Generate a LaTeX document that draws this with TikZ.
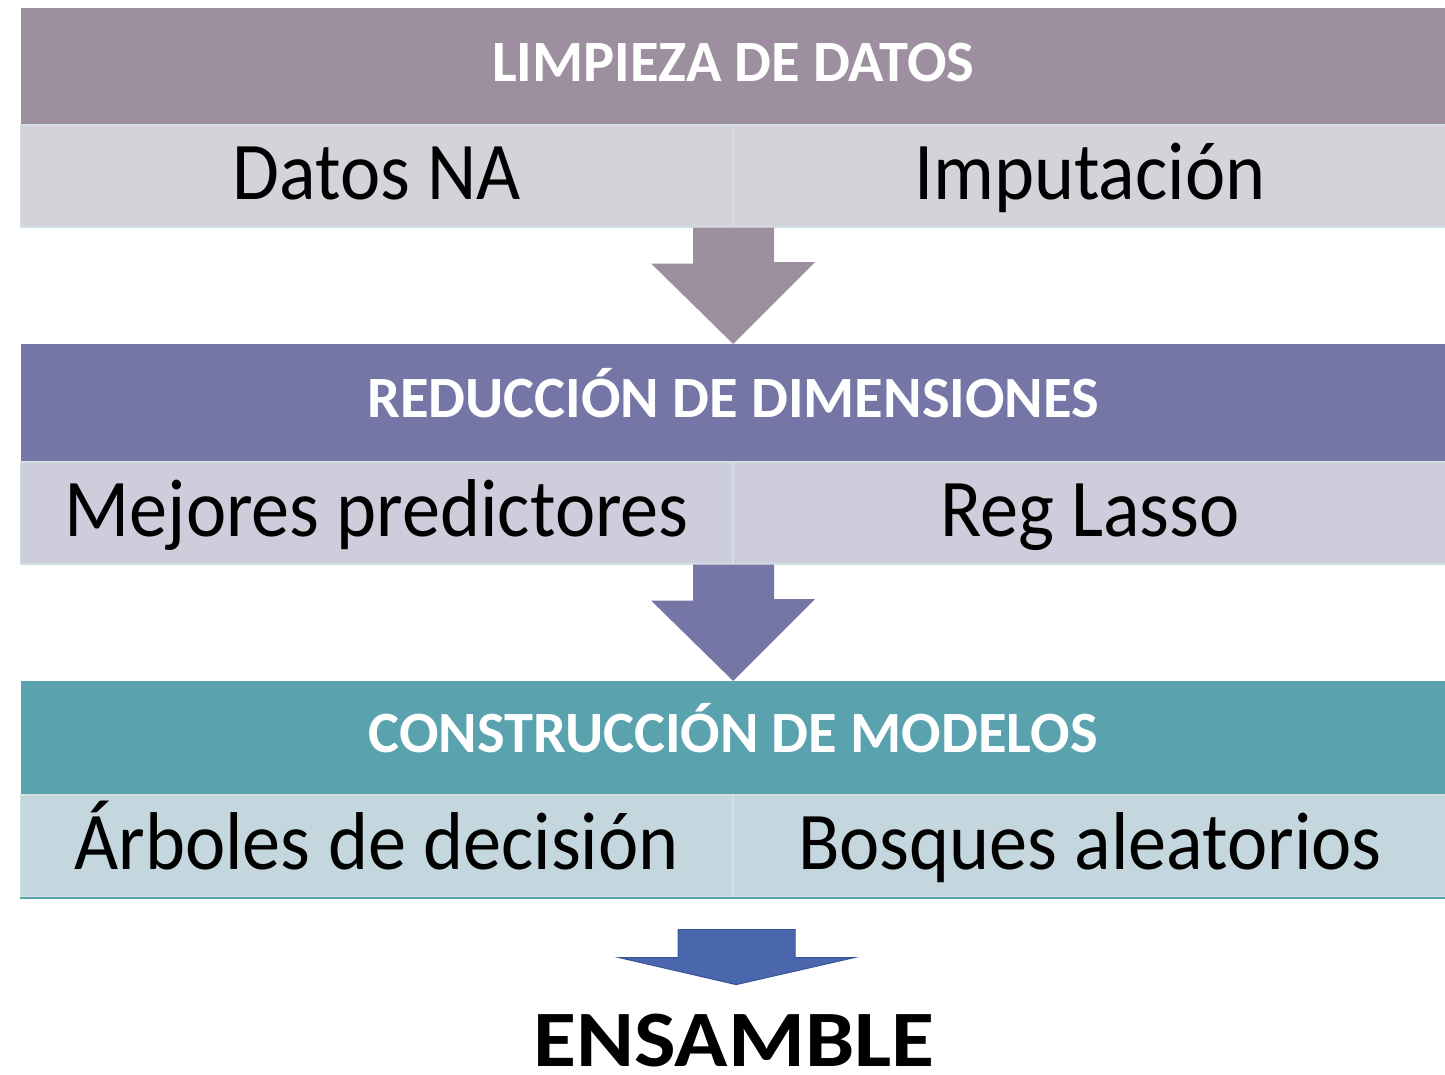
\documentclass[tikz,border=0pt]{standalone}
\usepackage{fontspec}
\setmainfont{Carlito}
\newfontfamily\cellfont{Carlito}[FakeStretch=0.93]
\newfontfamily\ensfont{Carlito}[FakeStretch=1.1]
\usetikzlibrary{positioning}

\definecolor{limpHead}{HTML}{9D8FA0}
\definecolor{limpCell}{HTML}{D6D2DA}
\definecolor{redHead}{HTML}{7676A6}
\definecolor{redCell}{HTML}{CDCDDB}
\definecolor{consHead}{HTML}{59A2AE}
\definecolor{consCell}{HTML}{C5D7DE}
\definecolor{cellLine}{HTML}{D2E0E3}
\definecolor{ensFill}{HTML}{4A66AC}
\definecolor{ensLine}{HTML}{3A5596}

\begin{document}
\begin{tikzpicture}[x=1pt, y=-1pt]
    \tikzstyle{head} = [rectangle, minimum width = 1424pt, inner sep = 0pt, text height = 40pt, text depth = 10pt, text = white, font = \bfseries\fontsize{58.5pt}{64pt}\selectfont]
    \tikzstyle{cell} = [rectangle, minimum width = 712pt, minimum height = 102pt, inner sep = 0pt, text height = 56pt, text depth = 10pt, draw = cellLine, line width = 1.2pt, font = \cellfont\fontsize{82pt}{90pt}\selectfont]
    \useasboundingbox (0,0) rectangle (1445,1074);

    % limpieza
    \node[head, fill = limpHead, minimum height = 116pt, anchor = north west](L) at (21,8){LIMPIEZA DE DATOS};
    \node[cell, fill = limpCell, below right = 0pt and -1pt of L.south west](L1){Datos NA};
    \node[cell, fill = limpCell, right = 0pt of L1](L2){Imputación};

    % reduccion
    \node[head, fill = redHead, minimum height = 117pt, anchor = north west](R) at (21,344){REDUCCIÓN DE DIMENSIONES};
    \node[cell, fill = redCell, below right = 0pt and -1pt of R.south west](R1){Mejores predictores};
    \node[cell, fill = redCell, right = 0pt of R1](R2){Reg Lasso};

    % construccion
    \node[head, fill = consHead, minimum height = 113pt, anchor = north west](C) at (21,681){CONSTRUCCIÓN DE MODELOS};
    \node[cell, fill = consCell, below right = 0pt and -1pt of C.south west](C1){Árboles de decisión};
    \node[cell, fill = consCell, right = 0pt of C1](C2){Bosques aleatorios};
    \draw[consHead, line width = 2pt] (C1.south west) -- (C2.south east);

    \node[inner sep = 0pt, text depth = 0pt, font = \ensfont\bfseries\fontsize{80pt}{90pt}\selectfont, anchor = base](E) at (734,1066){ENSAMBLE};

    % flechas
    \fill[limpHead] ([xshift = -40pt]L1.south east) -- ++(0,36) -- ++(-42,0) -- (R.north) -- ++(82,-82) -- ++(-41,0) -- ([xshift = 41pt]L1.south east) -- cycle;
    \fill[redHead] ([xshift = -40pt]R1.south east) -- ++(0,36) -- ++(-42,0) -- (C.north) -- ++(82,-82) -- ++(-41,0) -- ([xshift = 41pt]R1.south east) -- cycle;
    \filldraw[fill = ensFill, draw = ensLine, line width = 1pt] ([xshift = -55pt, yshift = -32pt]C1.south east) -- ++(0,28) -- ++(-59,0) -- ++(117,27) -- ++(118,-27) -- ++(-59,0) -- ++(0,-28) -- cycle;

\end{tikzpicture}
\end{document}
